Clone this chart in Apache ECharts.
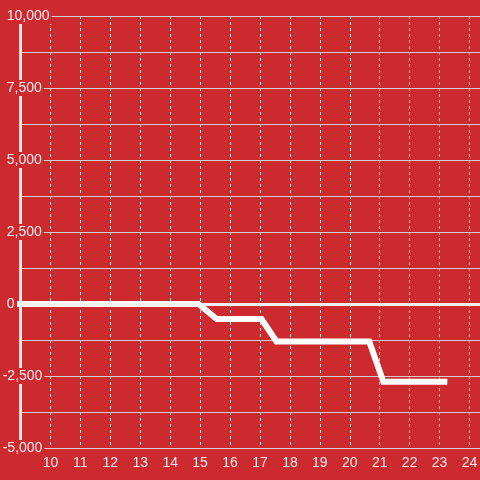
<!DOCTYPE html>
<html>
<head>
<meta charset="utf-8">
<script src="https://cdn.jsdelivr.net/npm/echarts@6/dist/echarts.min.js"></script>
<style>
html,body{margin:0;padding:0;background:#cc2a2f;}
#tu_1{width:480px;height:480px;}
</style>
</head>
<body>
<div id="tu_1"></div>
<script>
// x / y of the white line
var xVals = [8.8, 14.95, 15.55, 17.05, 17.55, 20.65, 21.12, 23.26];
var yVals = [0, 0, -520, -520, -1300, -1300, -2700, -2700];
var yTicks = [-5000, -2500, 0, 2500, 5000, 7500, 10000];
var xTicks = [10, 11, 12, 13, 14, 15, 16, 17, 18, 19, 20, 21, 22, 23, 24];

var bg = '#cc2a2f';
var txt = 'rgba(255,255,255,0.9)';
var gridCol = '#d0d0d0';
var font = 'Liberation Sans';

var pts = [];
for (var i = 0; i < xVals.length; i++) {
	pts.push([xVals[i], yVals[i]]);
}

// y labels: red box over the axis line, minus sign hangs to the left
function yLabel(neg, margin) {
	return {
		inside: true,
		margin: margin,
		align: 'left',
		color: txt,
		fontSize: 14,
		fontFamily: font,
		backgroundColor: bg,
		padding: [1, 2, 1, 2],
		formatter: function (v) {
			if (yTicks.indexOf(v) < 0) return '';
			if ((v < 0) !== neg) return '';
			return v.toLocaleString('en-US');
		}
	};
}

var myChart_1 = echarts.init(document.getElementById('tu_1'));
var option = {
	backgroundColor: bg,
	animation: false,
	textStyle: {fontFamily: font},
	grid: {left: 20.5, right: 0, top: 16, bottom: 32, containLabel: false, outerBoundsMode: 'none'},
	xAxis: {
		type: 'value',
		min: 9,
		max: 24.35,
		interval: 1,
		z: 0,
		axisLine: {show: false},
		axisTick: {show: false},
		axisLabel: {
			color: txt,
			fontSize: 14,
			fontFamily: font,
			margin: 8,
			hideOverlap: false,
			formatter: function (v) {
				return xTicks.indexOf(v) >= 0 ? String(v) : '';
			}
		},
		splitLine: {show: true, lineStyle: {color: gridCol, width: 1, type: [3, 3]}}
	},
	yAxis: [
		{   // axis line + labels >= 0, on top
			type: 'value',
			position: 'left',
			min: -5000,
			max: 10000,
			interval: 2500,
			z: 5,
			axisLine: {show: true, onZero: false, lineStyle: {color: '#f0f0f0', width: 3}},
			axisTick: {show: false},
			splitLine: {show: false},
			axisLabel: yLabel(false, -15.8)
		},
		{   // grid lines only, under the line
			type: 'value',
			position: 'left',
			min: -5000,
			max: 10000,
			interval: 2500,
			z: 0,
			axisLine: {show: false, onZero: false},
			axisTick: {show: false},
			axisLabel: {show: false},
			splitLine: {show: true, lineStyle: {color: gridCol, width: 1}},
			minorTick: {show: false, splitNumber: 2},
			minorSplitLine: {show: true, lineStyle: {color: gridCol, width: 1}}
		},
		{   // negative labels
			type: 'value',
			position: 'left',
			min: -5000,
			max: 10000,
			interval: 2500,
			z: 6,
			axisLine: {show: false, onZero: false},
			axisTick: {show: false},
			splitLine: {show: false},
			axisLabel: yLabel(true, -19.8)
		}
	],
	series: [{
		type: 'line',
		yAxisIndex: 0,
		data: pts,
		symbol: 'none',
		clip: false,
		z: 2,
		lineStyle: {color: '#ffffff', width: 6, join: 'miter', cap: 'butt'},
		markLine: {
			silent: true,
			symbol: 'none',
			label: {show: false},
			lineStyle: {color: '#f0f0f0', width: 3, type: 'solid'},
			data: [{yAxis: 0}]
		}
	}]
};
myChart_1.setOption(option);
</script>
</body>
</html>
